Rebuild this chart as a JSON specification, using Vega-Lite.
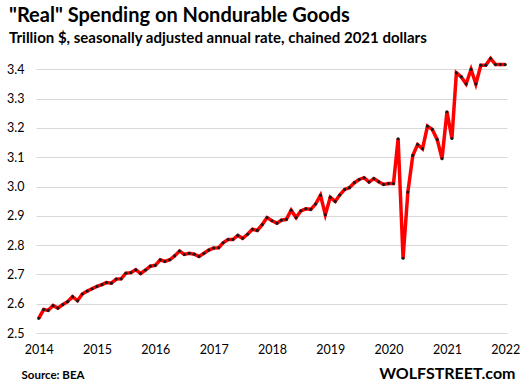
{
  "$schema": "https://vega.github.io/schema/vega-lite/v6.json",
  "width": 471,
  "height": 293,
  "autosize": "none",
  "padding": {"left": 36, "top": 40, "right": 16, "bottom": 59},
  "background": "white",
  "config": {"view": {"stroke": null}, "font": "Lato"},
  "title": {
    "text": "\"Real\" Spending on Nondurable Goods",
    "subtitle": "Trillion $, seasonally adjusted annual rate, chained 2021 dollars",
    "anchor": "start",
    "frame": "group",
    "dx": -27,
    "offset": -6,
    "font": "Lato",
    "fontSize": 20,
    "fontWeight": "bold",
    "color": "#000000",
    "subtitleFont": "Lato",
    "subtitleFontSize": 15,
    "subtitleFontWeight": "bold",
    "subtitleColor": "#000000",
    "subtitlePadding": 5
  },
  "data": {
    "values": [
      {"month": "2014-01-01", "value": 2.550}, {"month": "2014-02-01", "value": 2.580}, {"month": "2014-03-01", "value": 2.577},
      {"month": "2014-04-01", "value": 2.594}, {"month": "2014-05-01", "value": 2.585}, {"month": "2014-06-01", "value": 2.597},
      {"month": "2014-07-01", "value": 2.607}, {"month": "2014-08-01", "value": 2.624}, {"month": "2014-09-01", "value": 2.610},
      {"month": "2014-10-01", "value": 2.633}, {"month": "2014-11-01", "value": 2.643}, {"month": "2014-12-01", "value": 2.651},
      {"month": "2015-01-01", "value": 2.659}, {"month": "2015-02-01", "value": 2.665}, {"month": "2015-03-01", "value": 2.672},
      {"month": "2015-04-01", "value": 2.670}, {"month": "2015-05-01", "value": 2.684}, {"month": "2015-06-01", "value": 2.685},
      {"month": "2015-07-01", "value": 2.704}, {"month": "2015-08-01", "value": 2.706}, {"month": "2015-09-01", "value": 2.716},
      {"month": "2015-10-01", "value": 2.703}, {"month": "2015-11-01", "value": 2.715}, {"month": "2015-12-01", "value": 2.728},
      {"month": "2016-01-01", "value": 2.731}, {"month": "2016-02-01", "value": 2.750}, {"month": "2016-03-01", "value": 2.744},
      {"month": "2016-04-01", "value": 2.750}, {"month": "2016-05-01", "value": 2.763}, {"month": "2016-06-01", "value": 2.780},
      {"month": "2016-07-01", "value": 2.768}, {"month": "2016-08-01", "value": 2.772}, {"month": "2016-09-01", "value": 2.769},
      {"month": "2016-10-01", "value": 2.761}, {"month": "2016-11-01", "value": 2.772}, {"month": "2016-12-01", "value": 2.783},
      {"month": "2017-01-01", "value": 2.790}, {"month": "2017-02-01", "value": 2.791}, {"month": "2017-03-01", "value": 2.808},
      {"month": "2017-04-01", "value": 2.819}, {"month": "2017-05-01", "value": 2.819}, {"month": "2017-06-01", "value": 2.833},
      {"month": "2017-07-01", "value": 2.823}, {"month": "2017-08-01", "value": 2.837}, {"month": "2017-09-01", "value": 2.854},
      {"month": "2017-10-01", "value": 2.850}, {"month": "2017-11-01", "value": 2.870}, {"month": "2017-12-01", "value": 2.894},
      {"month": "2018-01-01", "value": 2.883}, {"month": "2018-02-01", "value": 2.875}, {"month": "2018-03-01", "value": 2.885},
      {"month": "2018-04-01", "value": 2.888}, {"month": "2018-05-01", "value": 2.919}, {"month": "2018-06-01", "value": 2.894},
      {"month": "2018-07-01", "value": 2.917}, {"month": "2018-08-01", "value": 2.924}, {"month": "2018-09-01", "value": 2.922},
      {"month": "2018-10-01", "value": 2.940}, {"month": "2018-11-01", "value": 2.970}, {"month": "2018-12-01", "value": 2.904},
      {"month": "2019-01-01", "value": 2.963}, {"month": "2019-02-01", "value": 2.949}, {"month": "2019-03-01", "value": 2.971},
      {"month": "2019-04-01", "value": 2.990}, {"month": "2019-05-01", "value": 2.996}, {"month": "2019-06-01", "value": 3.013},
      {"month": "2019-07-01", "value": 3.024}, {"month": "2019-08-01", "value": 3.030}, {"month": "2019-09-01", "value": 3.015},
      {"month": "2019-10-01", "value": 3.027}, {"month": "2019-11-01", "value": 3.016}, {"month": "2019-12-01", "value": 3.007},
      {"month": "2020-01-01", "value": 3.010}, {"month": "2020-02-01", "value": 3.010}, {"month": "2020-03-01", "value": 3.163},
      {"month": "2020-04-01", "value": 2.755}, {"month": "2020-05-01", "value": 2.981}, {"month": "2020-06-01", "value": 3.106},
      {"month": "2020-07-01", "value": 3.143}, {"month": "2020-08-01", "value": 3.129}, {"month": "2020-09-01", "value": 3.206},
      {"month": "2020-10-01", "value": 3.195}, {"month": "2020-11-01", "value": 3.160}, {"month": "2020-12-01", "value": 3.095},
      {"month": "2021-01-01", "value": 3.255}, {"month": "2021-02-01", "value": 3.164}, {"month": "2021-03-01", "value": 3.388},
      {"month": "2021-04-01", "value": 3.374}, {"month": "2021-05-01", "value": 3.350}, {"month": "2021-06-01", "value": 3.400},
      {"month": "2021-07-01", "value": 3.350}, {"month": "2021-08-01", "value": 3.414}, {"month": "2021-09-01", "value": 3.414},
      {"month": "2021-10-01", "value": 3.437}, {"month": "2021-11-01", "value": 3.416}, {"month": "2021-12-01", "value": 3.416},
      {"month": "2022-01-01", "value": 3.416}
    ]
  },
  "layer": [
    {
      "mark": {"type": "line", "color": "#FF0000", "strokeWidth": 3.5, "clip": false},
      "encoding": {
        "x": {
          "field": "month", "type": "temporal",
          "scale": {"domain": ["2013-12-15", "2022-01-12"]},
          "axis": {
            "values": ["2014-01-01", "2015-01-01", "2016-01-01", "2017-01-01", "2018-01-01", "2019-01-01", "2020-01-01", "2021-01-01", "2022-01-01"],
            "format": "%Y", "grid": false, "domain": false, "ticks": false,
            "labelFont": "Lato", "labelFontSize": 12.5, "labelColor": "#000000", "labelPadding": 10,
            "labelFlush": false, "labelOverlap": false,
            "title": "Source: BEA", "titleAnchor": "start", "titleAlign": "left",
            "titleFont": "Lato", "titleFontSize": 11.5, "titleFontWeight": "bold", "titleColor": "#000000",
            "titleX": -15, "titleY": 36
          }
        },
        "y": {
          "field": "value", "type": "quantitative",
          "scale": {"domain": [2.5, 3.5], "nice": false, "zero": false},
          "axis": {
            "values": [2.5, 2.6, 2.7, 2.8, 2.9, 3.0, 3.1, 3.2, 3.3, 3.4],
            "tickCount": 10,
            "format": ".1f", "domain": false, "ticks": false, "title": null,
            "labelOverlap": false,
            "gridColor": "#d9d9d9", "gridWidth": 1,
            "labelFont": "Lato", "labelFontSize": 12.5, "labelColor": "#000000", "labelPadding": 12
          }
        }
      }
    },
    {
      "mark": {"type": "point", "filled": true, "color": "#1a1a1a", "size": 10, "opacity": 1, "clip": false},
      "encoding": {
        "x": {
          "field": "month", "type": "temporal",
          "scale": {"domain": ["2013-12-15", "2022-01-12"]},
          "axis": {
            "orient": "bottom", "labels": false, "grid": false, "domain": false, "ticks": false,
            "title": "WOLFSTREET.com", "titleAnchor": "end", "titleAlign": "right",
            "titleFont": "Lato", "titleFontSize": 16, "titleFontWeight": "bold", "titleColor": "#000000",
            "titleX": 479, "titleY": 32
          }
        },
        "y": {
          "field": "value", "type": "quantitative",
          "axis": {
            "values": [2.5, 2.6, 2.7, 2.8, 2.9, 3.0, 3.1, 3.2, 3.3, 3.4],
            "tickCount": 10,
            "format": ".1f", "domain": false, "ticks": false, "title": null,
            "labelOverlap": false,
            "gridColor": "#d9d9d9", "gridWidth": 1,
            "labelFont": "Lato", "labelFontSize": 12.5, "labelColor": "#000000", "labelPadding": 12
          }
        }
      }
    }
  ],
  "resolve": {"axis": {"x": "independent"}}
}
